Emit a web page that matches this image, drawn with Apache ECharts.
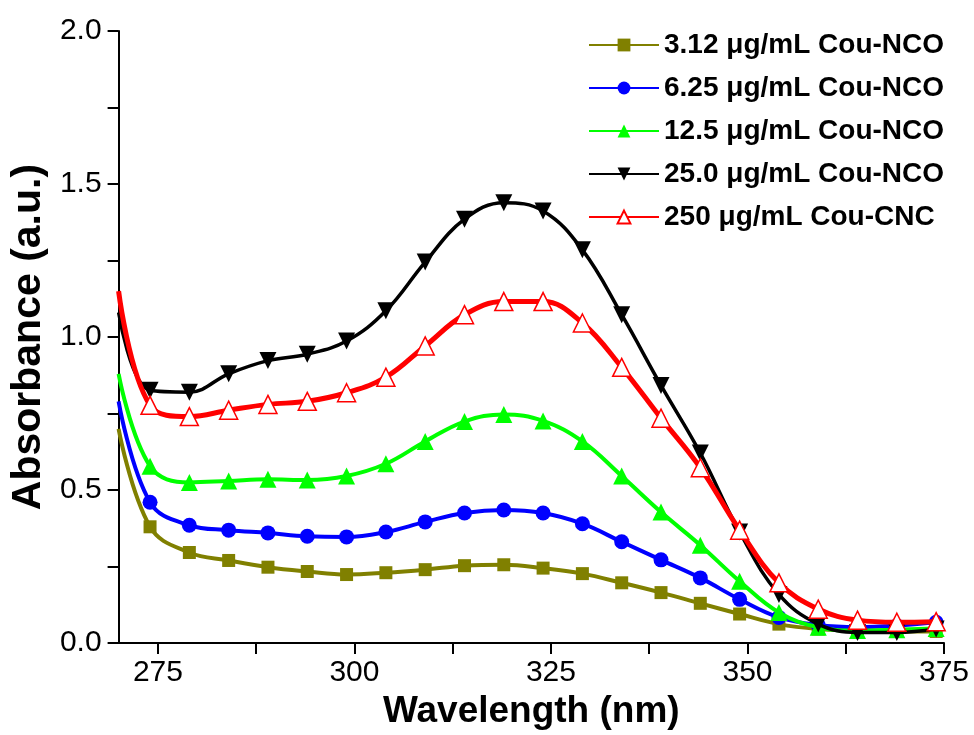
<!DOCTYPE html>
<html>
<head>
<meta charset="utf-8">
<script src="https://cdn.jsdelivr.net/npm/echarts@6/dist/echarts.min.js"></script>
<style>html,body{margin:0;padding:0;background:#fff;}#c{width:974px;height:735px;}</style>
</head>
<body>
<div id="c"></div>
<script>
const wavelengths = [270, 274, 279, 284, 289, 294, 299, 304, 309, 314, 319, 324, 329, 334, 339, 344, 349, 354, 359, 364, 369, 374];
const s312 = [0.70, 0.38, 0.296, 0.27, 0.248, 0.234, 0.224, 0.23, 0.24, 0.253, 0.256, 0.245, 0.227, 0.197, 0.165, 0.13, 0.095, 0.062, 0.046, 0.041, 0.038, 0.038];
const s625 = [0.79, 0.46, 0.385, 0.369, 0.36, 0.349, 0.347, 0.363, 0.396, 0.425, 0.435, 0.425, 0.39, 0.331, 0.272, 0.213, 0.143, 0.084, 0.059, 0.052, 0.057, 0.068];
const s125 = [0.88, 0.578, 0.525, 0.53, 0.535, 0.533, 0.546, 0.586, 0.659, 0.724, 0.747, 0.726, 0.659, 0.546, 0.428, 0.32, 0.202, 0.1, 0.052, 0.041, 0.044, 0.048];
const s250 = [1.08, 0.826, 0.82, 0.88, 0.923, 0.944, 0.987, 1.086, 1.245, 1.385, 1.439, 1.412, 1.285, 1.073, 0.842, 0.621, 0.363, 0.159, 0.062, 0.035, 0.035, 0.046];
const sCNC = [1.15, 0.777, 0.74, 0.761, 0.78, 0.79, 0.818, 0.869, 0.971, 1.073, 1.116, 1.116, 1.046, 0.901, 0.735, 0.573, 0.369, 0.197, 0.111, 0.075, 0.068, 0.07];
const seriesNames = ['3.12 μg/mL Cou-NCO', '6.25 μg/mL Cou-NCO', '12.5 μg/mL Cou-NCO', '25.0 μg/mL Cou-NCO', '250 μg/mL Cou-CNC'];
const xLabels = [275, 300, 325, 350, 375];
const xTicks = [275, 287.5, 300, 312.5, 325, 337.5, 350, 362.5, 375];
const yLabels = [0, 0.5, 1.0, 1.5, 2.0];
const yTicks = [0, 0.25, 0.5, 0.75, 1.0, 1.25, 1.5, 1.75, 2.0];

const FONT = '"Liberation Sans", Arial, sans-serif';
function build(vals) {
  return wavelengths.map((w, i) => i === 0 ? { value: [w, vals[i]], symbol: 'none' } : [w, vals[i]]);
}
const styles = [
  { data: s312, color: '#808000', symbol: 'rect', size: 13, width: 4 },
  { data: s625, color: '#0000FF', symbol: 'circle', size: 15, width: 4 },
  { data: s125, color: '#00FF00', symbol: 'triangle', size: 17, width: 4 },
  { data: s250, color: '#000000', symbol: 'triangle', size: 17, width: 3.5, rotate: 180 },
  { data: sCNC, color: '#FF0000', symbol: 'triangle', size: 18, width: 5, hollow: true }
];
const series = styles.map((s, i) => ({
  name: seriesNames[i],
  type: 'line',
  smooth: 0.4,
  data: build(s.data),
  symbol: s.symbol,
  symbolSize: s.size,
  symbolRotate: s.rotate || 0,
  showAllSymbol: true,
  lineStyle: { color: s.color, width: s.width },
  itemStyle: s.hollow ? { color: '#FFFFFF', borderColor: s.color, borderWidth: 1.5 } : { color: s.color, borderWidth: 0 },
  z: 2 + i
}));

const chart = echarts.init(document.getElementById('c'), null, { renderer: 'canvas' });
chart.setOption({
  animation: false,
  backgroundColor: '#ffffff',
  grid: { left: 109, right: 30, top: 31, bottom: 84, containLabel: false },
  legend: {
    orient: 'vertical',
    left: 583,
    top: 26,
    itemWidth: 70,
    itemHeight: 16,
    itemGap: 15,
    data: seriesNames,
    textStyle: { fontFamily: FONT, fontWeight: 'bold', fontSize: 28, color: '#000' }
  },
  xAxis: {
    type: 'value',
    min: 270,
    max: 375,
    name: 'Wavelength (nm)',
    nameLocation: 'middle',
    nameGap: 47,
    nameTextStyle: { fontFamily: FONT, fontWeight: 'bold', fontSize: 37, color: '#000' },
    axisLine: { onZero: false, lineStyle: { color: '#000', width: 2 } },
    axisTick: { show: true, inside: false, length: 11, lineStyle: { color: '#000', width: 2 }, customValues: xTicks },
    axisLabel: { fontFamily: FONT, fontSize: 30, color: '#000', margin: 15, customValues: xLabels },
    splitLine: { show: false }
  },
  yAxis: {
    type: 'value',
    min: 0,
    max: 2,
    name: 'Absorbance (a.u.)',
    nameLocation: 'middle',
    nameGap: 54,
    nameTextStyle: { fontFamily: FONT, fontWeight: 'bold', fontSize: 41, color: '#000' },
    axisLine: { onZero: false, lineStyle: { color: '#000', width: 2 } },
    axisTick: { show: true, inside: false, length: 11, lineStyle: { color: '#000', width: 2 }, customValues: yTicks },
    axisLabel: { fontFamily: FONT, fontSize: 30, color: '#000', margin: 17, customValues: yLabels, formatter: v => v.toFixed(1) },
    splitLine: { show: false }
  },
  series: series
});
</script>
</body>
</html>
